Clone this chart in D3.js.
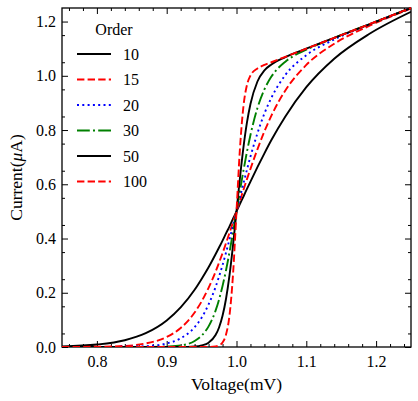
<!DOCTYPE html>
<html>
  <head>
    <meta charset="utf-8">
    <script src="https://cdnjs.cloudflare.com/ajax/libs/d3/7.8.5/d3.min.js"></script>
    <style>
      body { margin: 0; background: white; }
      text { font-family: "Liberation Serif", "DejaVu Serif", serif; fill: black; }
      .axis text { font-size: 16px; }
      .axis path { display: none; }
      .axis line { stroke: black; stroke-width: 1; }
    </style>
  </head>
  <body>
    <script>
    // values
    var voltage = [0.75, 0.80, 0.84, 0.87, 0.90, 0.92, 0.94, 0.95, 0.96, 0.97, 0.975, 0.98, 0.985, 0.99, 0.995,
                   1.0, 1.005, 1.01, 1.015, 1.02, 1.03, 1.04, 1.05, 1.07, 1.10, 1.14, 1.19, 1.25];

    var order10 = [0.002, 0.009, 0.025, 0.051, 0.098, 0.146, 0.211, 0.251, 0.294, 0.342, 0.367, 0.392, 0.419, 0.445, 0.473,
                   0.500, 0.528, 0.555, 0.583, 0.610, 0.663, 0.714, 0.763, 0.850, 0.958, 1.063, 1.154, 1.236];
    var order15 = [0.000, 0.001, 0.004, 0.013, 0.037, 0.070, 0.127, 0.168, 0.218, 0.277, 0.311, 0.346, 0.383, 0.421, 0.460,
                   0.500, 0.540, 0.580, 0.619, 0.657, 0.729, 0.795, 0.853, 0.946, 1.040, 1.118, 1.184, 1.248];
    var order20 = [0.000, 0.000, 0.001, 0.003, 0.013, 0.032, 0.073, 0.108, 0.157, 0.221, 0.260, 0.302, 0.348, 0.397, 0.448,
                   0.500, 0.552, 0.604, 0.654, 0.702, 0.788, 0.861, 0.919, 1.003, 1.076, 1.134, 1.189, 1.250];
    var order30 = [0.000, 0.000, 0.000, 0.000, 0.002, 0.006, 0.022, 0.042, 0.076, 0.134, 0.175, 0.225, 0.283, 0.350, 0.423,
                   0.500, 0.577, 0.651, 0.720, 0.782, 0.881, 0.950, 0.997, 1.052, 1.096, 1.140, 1.190, 1.250];
    var order50 = [0.000, 0.000, 0.000, 0.000, 0.000, 0.000, 0.002, 0.006, 0.016, 0.044, 0.072, 0.115, 0.178, 0.265, 0.375,
                   0.500, 0.625, 0.737, 0.828, 0.896, 0.979, 1.020, 1.042, 1.069, 1.100, 1.140, 1.190, 1.250];
    var order100 = [0.000, 0.000, 0.000, 0.000, 0.000, 0.000, 0.000, 0.000, 0.000, 0.002, 0.006, 0.017, 0.046, 0.117, 0.267,
                    0.500, 0.734, 0.889, 0.966, 1.001, 1.027, 1.040, 1.050, 1.070, 1.100, 1.140, 1.190, 1.250];

    var orderLabels = ["10", "15", "20", "30", "50", "100"];
    var xTicks = [0.8, 0.9, 1.0, 1.1, 1.2];
    var yTicks = [0.0, 0.2, 0.4, 0.6, 0.8, 1.0, 1.2];

    var series = [order10, order15, order20, order30, order50, order100];

    // line styles (science style cycle)
    var colors = ["#000000", "#ff0000", "#0000ff", "#008000", "#000000", "#ff0000"];
    var dashes = ["none", "7.4,3.2", "2,3.3", "12.8,3.2,2,3.2", "none", "7.4,3.2"];

    var width = 418, height = 401;
    var margin = {left: 62, right: 411, top: 8, bottom: 347};

    var xScale = d3.scaleLinear().domain([0.75, 1.25]).range([margin.left, margin.right]);
    var yScale = d3.scaleLinear().domain([0, 1.25]).range([margin.bottom, margin.top]);

    var svg = d3.select("body").append("svg")
        .attr("width", width)
        .attr("height", height);

    svg.append("defs").append("clipPath")
        .attr("id", "plotclip")
      .append("rect")
        .attr("x", margin.left).attr("y", margin.top - 1)
        .attr("width", margin.right - margin.left).attr("height", margin.bottom - margin.top + 1);

    var fmt = d3.format(".1f");
    var xMinor = d3.range(0.76, 1.25, 0.02).filter(function(v) { return Math.abs(v * 10 - Math.round(v * 10)) > 0.01; });
    var yMinor = d3.range(0.05, 1.25, 0.1);

    // bottom + top
    svg.append("g").attr("class", "axis")
        .attr("transform", "translate(0," + margin.bottom + ")")
        .call(d3.axisBottom(xScale).tickValues(xTicks).tickFormat(fmt).tickSizeInner(-6).tickSizeOuter(0).tickPadding(9));
    svg.append("g").attr("class", "axis")
        .attr("transform", "translate(0," + margin.bottom + ")")
        .call(d3.axisBottom(xScale).tickValues(xMinor).tickFormat("").tickSizeInner(-3).tickSizeOuter(0));
    svg.append("g").attr("class", "axis")
        .attr("transform", "translate(0," + margin.top + ")")
        .call(d3.axisTop(xScale).tickValues(xTicks).tickFormat("").tickSizeInner(-6).tickSizeOuter(0));
    svg.append("g").attr("class", "axis")
        .attr("transform", "translate(0," + margin.top + ")")
        .call(d3.axisTop(xScale).tickValues(xMinor).tickFormat("").tickSizeInner(-3).tickSizeOuter(0));

    // left + right
    svg.append("g").attr("class", "axis")
        .attr("transform", "translate(" + margin.left + ",0)")
        .call(d3.axisLeft(yScale).tickValues(yTicks).tickFormat(fmt).tickSizeInner(-6).tickSizeOuter(0).tickPadding(6));
    svg.append("g").attr("class", "axis")
        .attr("transform", "translate(" + margin.left + ",0)")
        .call(d3.axisLeft(yScale).tickValues(yMinor).tickFormat("").tickSizeInner(-3).tickSizeOuter(0));
    svg.append("g").attr("class", "axis")
        .attr("transform", "translate(" + margin.right + ",0)")
        .call(d3.axisRight(yScale).tickValues(yTicks).tickFormat("").tickSizeInner(-6).tickSizeOuter(0));
    svg.append("g").attr("class", "axis")
        .attr("transform", "translate(" + margin.right + ",0)")
        .call(d3.axisRight(yScale).tickValues(yMinor).tickFormat("").tickSizeInner(-3).tickSizeOuter(0));

    svg.selectAll(".axis text").attr("fill", "black").attr("font-family", null);

    // frame
    svg.append("rect")
        .attr("x", margin.left).attr("y", margin.top)
        .attr("width", margin.right - margin.left).attr("height", margin.bottom - margin.top)
        .attr("fill", "none")
        .attr("stroke", "black")
        .attr("stroke-width", 1.3);

    // curves
    var line = d3.line()
        .x(function(d) { return xScale(d[0]); })
        .y(function(d) { return yScale(d[1]); })
        .curve(d3.curveMonotoneX);

    series.forEach(function(vals, i) {
      svg.append("path")
          .datum(voltage.map(function(v, j) { return [v, vals[j]]; }))
          .attr("clip-path", "url(#plotclip)")
          .attr("d", line)
          .attr("fill", "none")
          .attr("stroke", colors[i])
          .attr("stroke-width", 1.9)
          .attr("stroke-dasharray", dashes[i]);
    });

    // legend
    var legend = svg.append("g");
    legend.append("text")
        .attr("x", 114).attr("y", 35)
        .attr("text-anchor", "middle")
        .style("font-size", "16px")
        .text("Order");
    orderLabels.forEach(function(lab, i) {
      var yy = 54 + i * 25.5;
      legend.append("line")
          .attr("x1", 77).attr("x2", 111)
          .attr("y1", yy).attr("y2", yy)
          .attr("stroke", colors[i])
          .attr("stroke-width", 1.9)
          .attr("stroke-dasharray", dashes[i]);
      legend.append("text")
          .attr("x", 123).attr("y", yy + 5.5)
          .style("font-size", "16px")
          .text(lab);
    });

    // axis labels
    svg.append("text")
        .attr("x", (margin.left + margin.right) / 2).attr("y", 390)
        .attr("text-anchor", "middle")
        .style("font-size", "17.5px")
        .text("Voltage(mV)");

    var ylab = svg.append("text")
        .attr("transform", "translate(22," + ((margin.top + margin.bottom) / 2) + ") rotate(-90)")
        .attr("text-anchor", "middle")
        .style("font-size", "17.5px");
    ylab.append("tspan").text("Current(");
    ylab.append("tspan").style("font-style", "italic").text("\u03bc");
    ylab.append("tspan").text("A)");
    </script>
  </body>
</html>
